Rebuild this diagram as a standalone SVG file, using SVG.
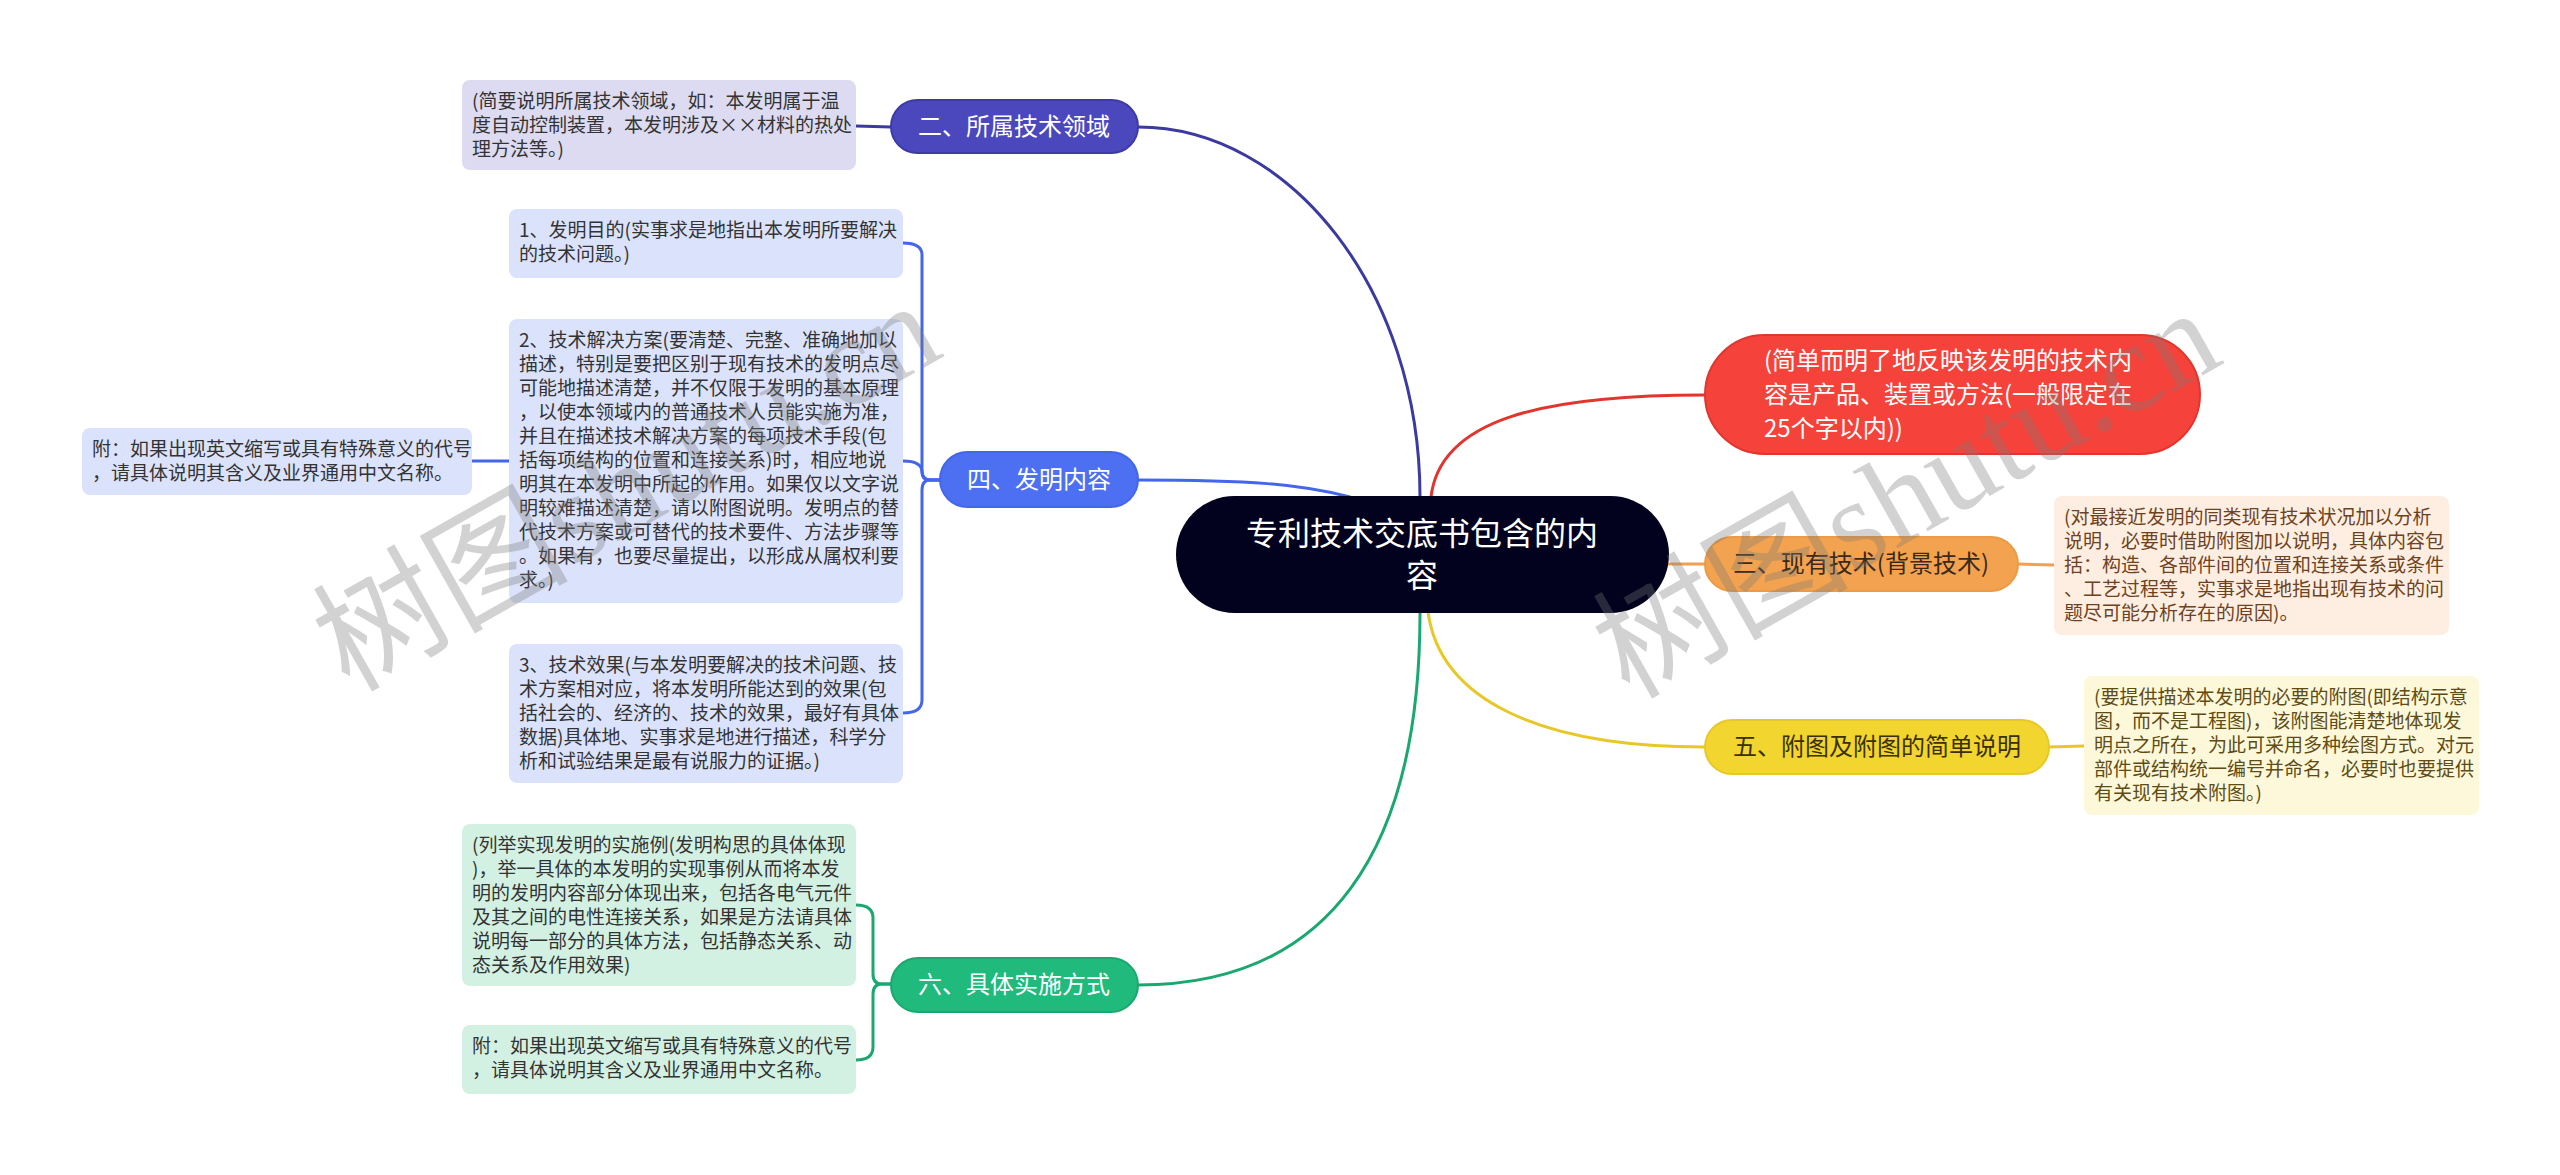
<svg xmlns="http://www.w3.org/2000/svg" width="2560" height="1175" viewBox="0 0 2560 1175">
<style>
.t{font-family:"Noto Sans CJK SC","Noto Sans",sans-serif;}
.box{font-size:19px;fill:#333333;}
.nd{font-size:24px;text-anchor:middle;}
.w{fill:#ffffff;}
.c{fill:none;stroke-width:3;stroke-linecap:round;stroke-linejoin:round;}
.wm{font-family:"Liberation Serif","Noto Sans CJK SC",serif;font-size:128px;fill:#7a7a7a;opacity:0.33;}
</style>
<rect width="2560" height="1175" fill="#ffffff"/>
<g id="connectors">
<path class="c" stroke="#3b3aa0" d="M1138,127 C1290,127 1420,290 1420,497"/>
<path class="c" stroke="#4466e8" d="M1138,480 C1250,480 1300,484 1350,497"/>
<path class="c" stroke="#e0362e" d="M1431,497 C1440,420 1540,395 1705,395"/>
<path class="c" stroke="#f0a050" d="M1669,564 L1705,564"/>
<path class="c" stroke="#e8c828" d="M1428,612 C1440,700 1540,747 1705,747"/>
<path class="c" stroke="#1aa870" d="M1420,613 C1420,850 1330,985 1138,985"/>
<path class="c" stroke="#3b3aa0" d="M891,127 L856,126"/>
<path class="c" stroke="#4466e8" d="M940,480 L930,480 Q922,480 922,470 L922,255 Q922,243 903,243"/>
<path class="c" stroke="#4466e8" d="M940,480 L930,480 Q922,480 922,472 Q922,461 903,461"/>
<path class="c" stroke="#4466e8" d="M940,480 L930,480 Q922,480 922,490 L922,700 Q922,713 903,713"/>
<path class="c" stroke="#4466e8" d="M509,461 L472,461"/>
<path class="c" stroke="#1aa870" d="M891,984 L882,984 Q873,984 873,974 L873,918 Q873,905 856,905"/>
<path class="c" stroke="#1aa870" d="M891,984 L882,984 Q873,984 873,994 L873,1047 Q873,1060 856,1060"/>
<path class="c" stroke="#f0a050" d="M2018,564 L2054,565"/>
<path class="c" stroke="#e8c828" d="M2049,747 L2084,746"/>
</g>
<g id="root">
<rect x="1176" y="496" width="493" height="117" rx="58.5" fill="#02021e"/>
<text class="t w" font-size="32" text-anchor="middle"><tspan x="1422" y="545">专利技术交底书包含的内</tspan><tspan x="1422" y="587">容</tspan></text>
</g>
<g id="n2">
<rect x="891" y="100" width="247" height="53" rx="26.5" fill="#4b47bd" stroke="#3e3aa8" stroke-width="2"/>
<text class="t nd w" x="1014" y="135">二、所属技术领域</text>
</g>
<g id="n2a">
<rect x="462" y="80" width="394" height="90" rx="8" fill="#dcdbf1"/>
<text class="t box"><tspan x="472" y="108">(简要说明所属技术领域，如：本发明属于温</tspan><tspan x="472" y="132">度自动控制装置，本发明涉及××材料的热处</tspan><tspan x="472" y="156">理方法等。)</tspan></text>
</g>
<g id="n4">
<rect x="940" y="452" width="198" height="55" rx="27.5" fill="#4d6ff2" stroke="#4466e8" stroke-width="2"/>
<text class="t nd w" x="1039" y="488">四、发明内容</text>
</g>
<g id="n4a">
<rect x="509" y="209" width="394" height="69" rx="8" fill="#dbe2fb"/>
<text class="t box"><tspan x="519" y="237">1、发明目的(实事求是地指出本发明所要解决</tspan><tspan x="519" y="261">的技术问题。)</tspan></text>
</g>
<g id="n4b">
<rect x="509" y="319" width="394" height="284" rx="8" fill="#dbe2fb"/>
<text class="t box"><tspan x="519" y="347">2、技术解决方案(要清楚、完整、准确地加以</tspan><tspan x="519" y="371">描述，特别是要把区别于现有技术的发明点尽</tspan><tspan x="519" y="395">可能地描述清楚，并不仅限于发明的基本原理</tspan><tspan x="519" y="419">，以使本领域内的普通技术人员能实施为准，</tspan><tspan x="519" y="443">并且在描述技术解决方案的每项技术手段(包</tspan><tspan x="519" y="467">括每项结构的位置和连接关系)时，相应地说</tspan><tspan x="519" y="491">明其在本发明中所起的作用。如果仅以文字说</tspan><tspan x="519" y="515">明较难描述清楚，请以附图说明。发明点的替</tspan><tspan x="519" y="539">代技术方案或可替代的技术要件、方法步骤等</tspan><tspan x="519" y="563">。如果有，也要尽量提出，以形成从属权利要</tspan><tspan x="519" y="587">求。)</tspan></text>
</g>
<g id="n4b1">
<rect x="82" y="428" width="390" height="67" rx="8" fill="#dbe2fb"/>
<text class="t box"><tspan x="92" y="456">附：如果出现英文缩写或具有特殊意义的代号</tspan><tspan x="92" y="480">，请具体说明其含义及业界通用中文名称。</tspan></text>
</g>
<g id="n4c">
<rect x="509" y="644" width="394" height="139" rx="8" fill="#dbe2fb"/>
<text class="t box"><tspan x="519" y="672">3、技术效果(与本发明要解决的技术问题、技</tspan><tspan x="519" y="696">术方案相对应，将本发明所能达到的效果(包</tspan><tspan x="519" y="720">括社会的、经济的、技术的效果，最好有具体</tspan><tspan x="519" y="744">数据)具体地、实事求是地进行描述，科学分</tspan><tspan x="519" y="768">析和试验结果是最有说服力的证据。)</tspan></text>
</g>
<g id="n6">
<rect x="891" y="958" width="247" height="54" rx="27" fill="#1fba7c" stroke="#1aa870" stroke-width="2"/>
<text class="t nd w" x="1014" y="993">六、具体实施方式</text>
</g>
<g id="n6a">
<rect x="462" y="824" width="394" height="162" rx="8" fill="#d3f1e3"/>
<text class="t box"><tspan x="472" y="852">(列举实现发明的实施例(发明构思的具体体现</tspan><tspan x="472" y="876">)，举一具体的本发明的实现事例从而将本发</tspan><tspan x="472" y="900">明的发明内容部分体现出来，包括各电气元件</tspan><tspan x="472" y="924">及其之间的电性连接关系，如果是方法请具体</tspan><tspan x="472" y="948">说明每一部分的具体方法，包括静态关系、动</tspan><tspan x="472" y="972">态关系及作用效果)</tspan></text>
</g>
<g id="n6b">
<rect x="462" y="1025" width="394" height="69" rx="8" fill="#d3f1e3"/>
<text class="t box"><tspan x="472" y="1053">附：如果出现英文缩写或具有特殊意义的代号</tspan><tspan x="472" y="1077">，请具体说明其含义及业界通用中文名称。</tspan></text>
</g>
<g id="n1">
<rect x="1705" y="335" width="495" height="119" rx="59.5" fill="#f5433b" stroke="#e0362e" stroke-width="2"/>
<text class="t w" font-size="24"><tspan x="1764" y="369">(简单而明了地反映该发明的技术内</tspan><tspan x="1764" y="403">容是产品、装置或方法(一般限定在</tspan><tspan x="1764" y="437">25个字以内))</tspan></text>
</g>
<g id="n3">
<rect x="1705" y="537" width="313" height="54" rx="27" fill="#f3a24f" stroke="#ec9a45" stroke-width="2"/>
<text class="t nd" x="1861" y="572" fill="#3a2a1a">三、现有技术(背景技术)</text>
</g>
<g id="n3a">
<rect x="2054" y="496" width="395" height="139" rx="8" fill="#fdeee1"/>
<text class="t box" style="fill:#6e4220"><tspan x="2064" y="524">(对最接近发明的同类现有技术状况加以分析</tspan><tspan x="2064" y="548">说明，必要时借助附图加以说明，具体内容包</tspan><tspan x="2064" y="572">括：构造、各部件间的位置和连接关系或条件</tspan><tspan x="2064" y="596">、工艺过程等，实事求是地指出现有技术的问</tspan><tspan x="2064" y="620">题尽可能分析存在的原因)。</tspan></text>
</g>
<g id="n5">
<rect x="1705" y="720" width="344" height="54" rx="27" fill="#f2d52e" stroke="#e8c828" stroke-width="2"/>
<text class="t nd" x="1877" y="755" fill="#3a3000">五、附图及附图的简单说明</text>
</g>
<g id="n5a">
<rect x="2084" y="676" width="395" height="139" rx="8" fill="#fdf8d9"/>
<text class="t box" style="fill:#5e4c14"><tspan x="2094" y="704">(要提供描述本发明的必要的附图(即结构示意</tspan><tspan x="2094" y="728">图，而不是工程图)，该附图能清楚地体现发</tspan><tspan x="2094" y="752">明点之所在，为此可采用多种绘图方式。对元</tspan><tspan x="2094" y="776">部件或结构统一编号并命名，必要时也要提供</tspan><tspan x="2094" y="800">有关现有技术附图。)</tspan></text>
</g>
<g id="watermarks">
<text class="wm" transform="translate(349,693) rotate(-29.5)">树图shutu.cn</text>
<text class="wm" transform="translate(1629,700) rotate(-29.5)">树图shutu.cn</text>
</g>
</svg>
